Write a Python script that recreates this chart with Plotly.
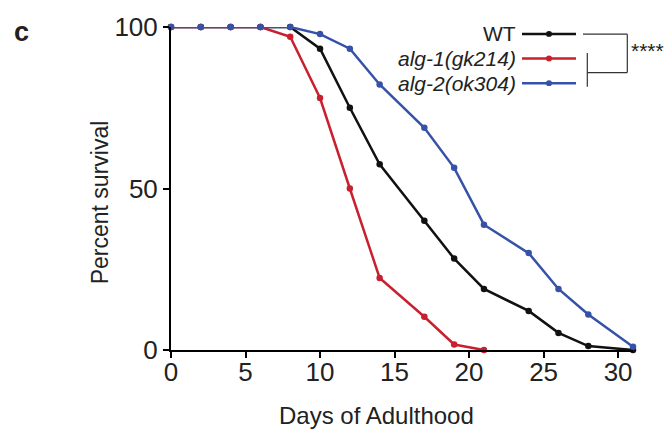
import plotly.graph_objects as go

# ---- data ----
wt_days = [0, 2, 4, 6, 8, 10, 12, 14, 17, 19, 21, 24, 26, 28, 31]
wt_surv = [100, 100, 100, 100, 100, 93.3, 75, 57.5, 40, 28.3, 18.9, 12.1, 5.3, 1.2, 0]

alg1_days = [0, 2, 4, 6, 8, 10, 12, 14, 17, 19, 21]
alg1_surv = [100, 100, 100, 100, 97, 78, 50, 22.3, 10.3, 1.7, 0]

alg2_days = [0, 2, 4, 6, 8, 10, 12, 14, 17, 19, 21, 24, 26, 28, 31]
alg2_surv = [100, 100, 100, 100, 100, 97.8, 93.3, 82.2, 68.8, 56.4, 38.8, 30, 18.9, 11, 1]

series_names = ["WT", "<i>alg-1(gk214)</i>", "<i>alg-2(ok304)</i>"]
series_colors = ["#111111", "#c8202e", "#3652a8"]

x_ticks = [0, 5, 10, 15, 20, 25, 30]
y_ticks = [0, 50, 100]

FONT = "Liberation Sans, Arial, Helvetica, sans-serif"
W, H = 668, 435
L, R, T, B = 171, 35, 22, 85
PW, PH = W - L - R, H - T - B


def px(xp):
    return (xp - L) / PW


def py(yp):
    return (H - B - yp) / PH


fig = go.Figure()
for d, s, name, col in [
    (wt_days, wt_surv, series_names[0], series_colors[0]),
    (alg1_days, alg1_surv, series_names[1], series_colors[1]),
    (alg2_days, alg2_surv, series_names[2], series_colors[2]),
]:
    fig.add_trace(go.Scatter(
        x=d, y=s, mode="lines+markers", name=name,
        line=dict(color=col, width=2.5),
        marker=dict(color=col, size=6.5),
        cliponaxis=False, showlegend=False,
    ))

annotations = []
shapes = []

# custom legend
rows_y = [29, 54, 79]
for name, col, yy in zip(series_names, series_colors, rows_y):
    annotations.append(dict(
        x=px(518), y=py(yy), xref="paper", yref="paper", text=name,
        showarrow=False, xanchor="right", yanchor="middle",
        font=dict(family=FONT, size=21, color="#222222"),
    ))
    shapes.append(dict(type="line", xref="paper", yref="paper",
                       x0=px(522), x1=px(576), y0=py(yy), y1=py(yy),
                       line=dict(color=col, width=2.5)))
    shapes.append(dict(type="circle", xref="paper", yref="paper",
                       x0=px(546), x1=px(552), y0=py(yy - 3), y1=py(yy + 3),
                       fillcolor=col, line=dict(color=col, width=0)))

# significance bracket
bcol = "#333333"
for (x0, y0, x1, y1) in [
    (583, 29.3, 627.3, 29.3),
    (627.3, 29.3, 627.3, 68.3),
    (587.3, 68.3, 627.3, 68.3),
    (587.3, 48.3, 587.3, 82.7),
]:
    shapes.append(dict(type="line", xref="paper", yref="paper",
                       x0=px(x0), x1=px(x1), y0=py(y0), y1=py(y1),
                       line=dict(color=bcol, width=1.2)))
annotations.append(dict(
    x=px(629), y=py(46), xref="paper", yref="paper", text="****",
    showarrow=False, xanchor="left", yanchor="middle",
    font=dict(family=FONT, size=21, color="#222222"),
))

# axis titles
annotations.append(dict(
    x=px(376), y=py(417), xref="paper", yref="paper", text="Days of Adulthood",
    showarrow=False, xanchor="center", yanchor="middle",
    font=dict(family=FONT, size=24, color="#222222"),
))
annotations.append(dict(
    x=px(100), y=py(200), xref="paper", yref="paper", text="Percent survival",
    showarrow=False, xanchor="center", yanchor="middle", textangle=-90,
    font=dict(family=FONT, size=23, color="#222222"),
))
# panel label
annotations.append(dict(
    x=px(12), y=py(27), xref="paper", yref="paper", text="<b>c</b>",
    showarrow=False, xanchor="left", yanchor="middle",
    font=dict(family=FONT, size=27, color="#222222"),
))

fig.update_layout(
    width=W, height=H,
    margin=dict(l=L, r=R, t=T, b=B, pad=0),
    plot_bgcolor="white", paper_bgcolor="white",
    font=dict(family=FONT, color="#222222"),
    annotations=annotations, shapes=shapes,
    showlegend=False,
)
fig.update_xaxes(
    range=[0, 31], tickvals=x_ticks, ticktext=[str(v) for v in x_ticks],
    showline=True, linecolor="black", linewidth=2,
    ticks="outside", ticklen=6, tickwidth=1.5, tickcolor="black",
    showgrid=False, zeroline=False, ticklabelstandoff=-8,
    tickfont=dict(family=FONT, size=26, color="#222222"),
)
fig.update_yaxes(
    range=[0, 100], tickvals=y_ticks, ticktext=[str(v) for v in y_ticks],
    showline=True, linecolor="black", linewidth=2,
    ticks="outside", ticklen=6, tickwidth=1.5, tickcolor="black",
    showgrid=False, zeroline=False,
    tickfont=dict(family=FONT, size=26, color="#222222"),
)

fig.write_html(
    "out.html",
    config={"displayModeBar": False},
    post_script="document.body.style.margin='0';document.body.style.padding='0';",
)
